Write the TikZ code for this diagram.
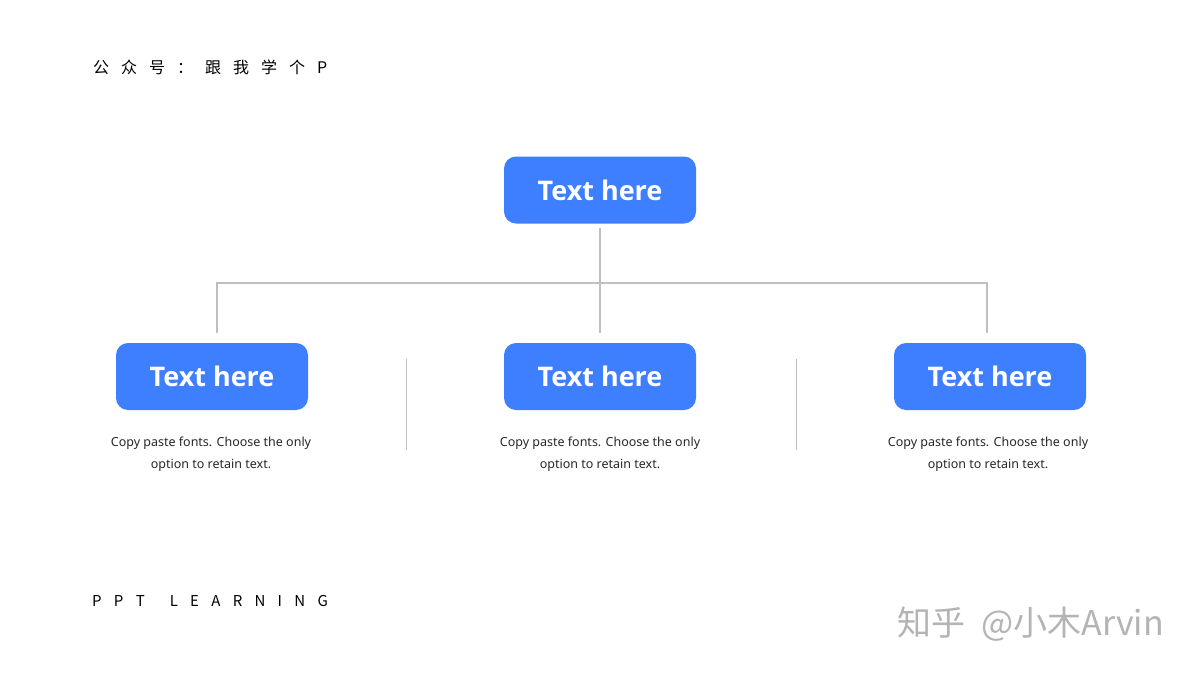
\documentclass[tikz,border=0pt]{standalone}
\usepackage{fontspec}
\setmainfont{Noto Sans}
\newfontfamily\cjkfont{Noto Sans CJK SC}
\newfontfamily\boxfont{Open Sans}
\definecolor{boxblue}{RGB}{61,127,255}
\definecolor{linegray}{RGB}{191,191,191}
\definecolor{textgray}{RGB}{40,40,40}
\definecolor{wmgray}{RGB}{180,180,180}
\tikzset{
  bluebox/.style={fill=boxblue, rounded corners=12pt, minimum width=192pt, minimum height=67pt,
    inner sep=0pt, text=white, font=\boxfont\fontsize{27}{30}\selectfont\bfseries},
  conn/.style={draw=linegray, line width=1.8pt},
  sep/.style={draw=linegray, line width=1pt},
  desc/.style={align=center, font=\fontsize{12.5}{22}\selectfont, text=textgray, inner sep=0pt},
}
\newcommand{\gapc}{\hspace{12pt}}
\newcommand{\gapl}{\hspace{12.3pt}}
\begin{document}
\begin{tikzpicture}[x=1pt,y=-1pt]
\useasboundingbox (0,0) rectangle (1200,675);
\fill[white] (0,0) rectangle (1200,675);
% header
\node[anchor=west, inner sep=0pt, font=\cjkfont\fontsize{16}{16}\selectfont, text=black] (hdr) at (93,67)
  {公\gapc 众\gapc 号\gapc ：\gapc 跟\gapc 我\gapc 学\gapc 个\gapc P};
\node[anchor=west, inner sep=0pt, font=\cjkfont\fontsize{15}{15}\selectfont, text=black] (ftr) at (92,601)
  {P\gapl P\gapl T\hspace{25pt}L\gapl E\gapl A\gapl R\gapl N\gapl I\gapl N\gapl G};
% boxes
\node[bluebox] (top) at (600,190) {Text here};
\node[bluebox] (b1) at (212,376.5) {Text here};
\node[bluebox] (b2) at (600,376.5) {Text here};
\node[bluebox] (b3) at (990,376.5) {Text here};
% connectors
\coordinate (hl) at (217,283);
\coordinate (hr) at (987,283);
\coordinate (tb) at (600,228);
\coordinate (e1) at (217,333);
\coordinate (e2) at (600,333);
\coordinate (e3) at (987,333);
\draw[conn] (tb) -- (e2);
\draw[conn] (e1) -- (hl) -- (hr) -- (e3);
% separators
\coordinate (s1a) at (406,359); \coordinate (s1b) at (406,450);
\coordinate (s2a) at (796,359); \coordinate (s2b) at (796,450);
\draw[sep] (s1a) -- (s1b);
\draw[sep] (s2a) -- (s2b);
% descriptions
\node[desc] (d1) at (211,454) {Copy paste fonts. Choose the only\\option to retain text.};
\node[desc] (d2) at (600,454) {Copy paste fonts. Choose the only\\option to retain text.};
\node[desc] (d3) at (988,454) {Copy paste fonts. Choose the only\\option to retain text.};
% watermark
\node[anchor=west, inner sep=0pt, font=\cjkfont\fontsize{34}{34}\selectfont, text=wmgray] (wm) at (897,624) {知乎\hspace{16pt}@小木Arvin};
\end{tikzpicture}
\end{document}
